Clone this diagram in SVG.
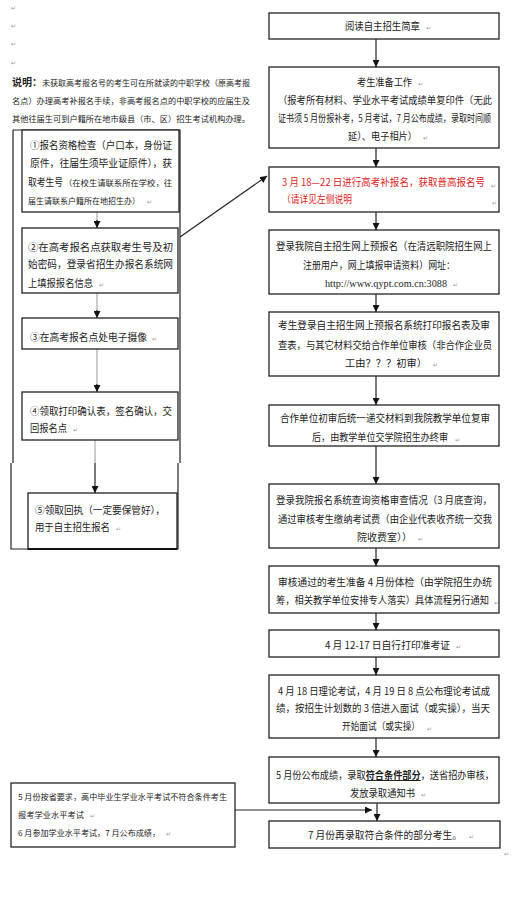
<svg xmlns="http://www.w3.org/2000/svg" width="520" height="900" viewBox="0 0 520 900">
<style>
.bg{fill:#fff}
.box{fill:#fff;stroke:#222;stroke-width:1.3}
.t{font-family:"Noto Sans CJK SC","Noto Sans",sans-serif;font-size:10px;fill:#222}
.s{font-family:"Noto Sans CJK SC","Noto Sans",sans-serif;font-size:8px;fill:#222}
.red{fill:#e02020}
.url{font-family:"Liberation Serif",serif;font-size:10.5px;fill:#222}
.pm{font-family:"DejaVu Sans",sans-serif;font-size:6px;fill:#999}
.c{stroke:#222;stroke-width:1.2;fill:none}
.g{stroke:#999;stroke-width:1;fill:none}
.u{text-decoration:underline;font-weight:bold}
</style>
<defs>
<marker id="ah" viewBox="0 0 8 8" refX="8" refY="4" markerWidth="7" markerHeight="7" orient="auto" markerUnits="userSpaceOnUse">
<path d="M0,0 L8,4 L0,8 z" fill="#111"/>
</marker>
</defs>
<rect class="bg" x="0" y="0" width="520" height="900"/>

<g id="marks">
<text class="pm" x="11" y="10">↵</text>
<text class="pm" x="11" y="28">↵</text>
<text class="pm" x="11" y="46">↵</text>
<text class="pm" x="11" y="65">↵</text>
<text class="pm" x="504" y="856">↵</text>
</g>

<g id="note">
<text class="s" x="12" y="86" textLength="238" lengthAdjust="spacingAndGlyphs"><tspan font-size="10" font-weight="bold">说明：</tspan>未获取高考报名号的考生可在所就读的中职学校（原高考报</text>
<text class="s" x="12" y="104" textLength="238" lengthAdjust="spacingAndGlyphs">名点）办理高考补报名手续，非高考报名点的中职学校的应届生及</text>
<text class="s" x="12" y="122" textLength="238" lengthAdjust="spacingAndGlyphs">其他往届生可到户籍所在地市级县（市、区）招生考试机构办理。</text>
</g>

<g id="outer">
<path class="c" d="M13,130 L180,130 L180,463 M13,130 L13,463 M11,463 L11,549 L178,549 L178,463"/>
</g>

<g id="connectors">
<line class="c" x1="376" y1="39" x2="376" y2="67" marker-end="url(#ah)"/>
<line class="c" x1="376" y1="148" x2="376" y2="167" marker-end="url(#ah)"/>
<line class="c" x1="376" y1="212" x2="376" y2="230" marker-end="url(#ah)"/>
<line class="c" x1="376" y1="294" x2="376" y2="312" marker-end="url(#ah)"/>
<line class="c" x1="376" y1="376" x2="376" y2="405" marker-end="url(#ah)"/>
<line class="c" x1="376" y1="446" x2="376" y2="484" marker-end="url(#ah)"/>
<line class="c" x1="376" y1="548" x2="376" y2="566" marker-end="url(#ah)"/>
<line class="c" x1="376" y1="613" x2="376" y2="630" marker-end="url(#ah)"/>
<line class="c" x1="376" y1="657" x2="376" y2="675" marker-end="url(#ah)"/>
<line class="c" x1="376" y1="738" x2="376" y2="757" marker-end="url(#ah)"/>
<line class="c" x1="377" y1="803" x2="377" y2="821" marker-end="url(#ah)"/>
<line class="c" x1="235" y1="810" x2="372" y2="810" marker-end="url(#ah)"/>
<line class="c" x1="180" y1="237" x2="267" y2="176" marker-end="url(#ah)"/>
<line class="g" x1="97" y1="212" x2="97" y2="222"/>
<line class="c" x1="97" y1="220" x2="97" y2="228" marker-end="url(#ah)"/>
<line class="g" x1="97" y1="293" x2="97" y2="312"/>
<line class="c" x1="97" y1="310" x2="97" y2="318" marker-end="url(#ah)"/>
<line class="g" x1="97" y1="349" x2="97" y2="386"/>
<line class="c" x1="97" y1="384" x2="97" y2="392" marker-end="url(#ah)"/>
<line class="g" x1="95" y1="440" x2="95" y2="463"/>
<line class="c" x1="95" y1="463" x2="95" y2="493" marker-end="url(#ah)"/>
</g>

<g id="n1"><rect class="box" x="269" y="13" width="230" height="26"/>
<text class="t" x="345" y="30" textLength="75" lengthAdjust="spacingAndGlyphs">阅读自主招生简章</text><text class="pm" x="426" y="30">↵</text></g>

<g id="n2"><rect class="box" x="269" y="67" width="230" height="81"/>
<text class="t" x="357" y="86" textLength="55" lengthAdjust="spacingAndGlyphs">考生准备工作</text><text class="pm" x="418" y="86">↵</text>
<text class="t" x="278" y="104" textLength="214" lengthAdjust="spacingAndGlyphs">（报考所有材料、学业水平考试成绩单复印件（无此</text>
<text class="t" x="278" y="122" font-size="9" textLength="213" lengthAdjust="spacingAndGlyphs">证书须 5 月份报补考，5 月考试，7 月公布成绩，录取时间顺</text>
<text class="t" x="348" y="140" textLength="69" lengthAdjust="spacingAndGlyphs">延）、电子相片）</text><text class="pm" x="423" y="140">↵</text></g>

<g id="n3"><rect class="box" x="269" y="167" width="230" height="45"/>
<text class="t red" x="282" y="186" textLength="203" lengthAdjust="spacingAndGlyphs">3 月 18—22 日进行高考补报名，获取普高报名号</text><text class="pm" x="491" y="188">↵</text>
<text class="t red" x="282" y="203" textLength="70" lengthAdjust="spacingAndGlyphs">（请详见左侧说明</text><text class="pm" x="492" y="205">↵</text></g>

<g id="n4"><rect class="box" x="269" y="230" width="230" height="64"/>
<text class="t" x="276" y="250" textLength="216" lengthAdjust="spacingAndGlyphs">登录我院自主招生网上预报名（在清远职院招生网上</text>
<text class="t" x="303" y="269" textLength="152" lengthAdjust="spacingAndGlyphs">注册用户，网上填报申请资料）网址：</text>
<text class="url" x="325" y="287" textLength="122" lengthAdjust="spacingAndGlyphs">http://www.qypt.com.cn:3088</text><text class="pm" x="453" y="287">↵</text></g>

<g id="n5"><rect class="box" x="269" y="312" width="230" height="64"/>
<text class="t" x="278" y="329" textLength="212" lengthAdjust="spacingAndGlyphs">考生登录自主招生网上预报名系统打印报名表及审</text>
<text class="t" x="278" y="349" textLength="214" lengthAdjust="spacingAndGlyphs">查表，与其它材料交给合作单位审核（非合作企业员</text>
<text class="t" x="345" y="367" textLength="82" lengthAdjust="spacingAndGlyphs">工由？？？初审）</text><text class="pm" x="433" y="367">↵</text></g>

<g id="n6"><rect class="box" x="269" y="405" width="230" height="41"/>
<text class="t" x="280" y="422" textLength="210" lengthAdjust="spacingAndGlyphs">合作单位初审后统一递交材料到我院教学单位复审</text>
<text class="t" x="312" y="441" textLength="136" lengthAdjust="spacingAndGlyphs">后，由教学单位交学院招生办终审</text><text class="pm" x="455" y="442">↵</text></g>

<g id="n7"><rect class="box" x="269" y="484" width="230" height="64"/>
<text class="t" x="276" y="504" textLength="216" lengthAdjust="spacingAndGlyphs">登录我院报名系统查询资格审查情况（3 月底查询，</text>
<text class="t" x="278" y="523" textLength="214" lengthAdjust="spacingAndGlyphs">通过审核考生缴纳考试费（由企业代表收齐统一交我</text>
<text class="t" x="357" y="541" textLength="55" lengthAdjust="spacingAndGlyphs">院收费室））</text><text class="pm" x="418" y="541">↵</text></g>

<g id="n8"><rect class="box" x="269" y="566" width="230" height="47"/>
<text class="t" x="278" y="586" textLength="214" lengthAdjust="spacingAndGlyphs">审核通过的考生准备 4 月份体检（由学院招生办统</text>
<text class="t" x="276" y="604" textLength="213" lengthAdjust="spacingAndGlyphs">筹，相关教学单位安排专人落实）具体流程另行通知</text><text class="pm" x="494" y="605">↵</text></g>

<g id="n9"><rect class="box" x="269" y="630" width="230" height="27"/>
<text class="t" x="325" y="649" textLength="125" lengthAdjust="spacingAndGlyphs">4 月 12-17 日自行打印准考证</text><text class="pm" x="456" y="649">↵</text></g>

<g id="n10"><rect class="box" x="269" y="675" width="230" height="63"/>
<text class="t" x="278" y="695" textLength="212" lengthAdjust="spacingAndGlyphs">4 月 18 日理论考试，4 月 19 日 8 点公布理论考试成</text>
<text class="t" x="276" y="712" textLength="214" lengthAdjust="spacingAndGlyphs">绩，按招生计划数的 3 倍进入面试（或实操），当天</text>
<text class="t" x="342" y="730" textLength="78" lengthAdjust="spacingAndGlyphs">开始面试（或实操）</text><text class="pm" x="427" y="731">↵</text></g>

<g id="n11"><rect class="box" x="269" y="757" width="230" height="46"/>
<text class="t" x="276" y="779" textLength="218" lengthAdjust="spacingAndGlyphs">5 月份公布成绩，录取<tspan class="u">符合条件部分</tspan>，送省招办审核，</text>
<text class="t" x="350" y="797" textLength="65" lengthAdjust="spacingAndGlyphs">发放录取通知书</text><text class="pm" x="421" y="797">↵</text></g>

<g id="n12"><rect class="box" x="269" y="821" width="231" height="27"/>
<text class="t" x="308" y="839" font-size="11" textLength="154" lengthAdjust="spacingAndGlyphs">7 月份再录取符合条件的部分考生。</text><text class="pm" x="469" y="839">↵</text></g>

<g id="s1"><rect class="box" x="22" y="130" width="157" height="82"/>
<text class="t" x="30" y="149" textLength="142" lengthAdjust="spacingAndGlyphs">①报名资格检查（户口本，身份证</text>
<text class="t" x="30" y="167" textLength="142" lengthAdjust="spacingAndGlyphs">原件，往届生须毕业证原件），获</text>
<text class="t" x="28" y="186" textLength="35" lengthAdjust="spacingAndGlyphs">取考生号</text>
<text class="s" x="64" y="186" textLength="108" lengthAdjust="spacingAndGlyphs">（在校生请联系所在学校，往</text>
<text class="s" x="28" y="204" textLength="112" lengthAdjust="spacingAndGlyphs">届生请联系户籍所在地招生办）</text><text class="pm" x="147" y="204">↵</text></g>

<g id="s2"><rect class="box" x="22" y="228" width="156" height="65"/>
<text class="t" x="28" y="251" textLength="145" lengthAdjust="spacingAndGlyphs">②在高考报名点获取考生号及初</text>
<text class="t" x="28" y="268" textLength="145" lengthAdjust="spacingAndGlyphs">始密码，登录省招生办报名系统网</text>
<text class="t" x="28" y="287" textLength="65" lengthAdjust="spacingAndGlyphs">上填报报名信息</text><text class="pm" x="99" y="287">↵</text></g>

<g id="s3"><rect class="box" x="22" y="318" width="156" height="31"/>
<text class="t" x="30" y="341" textLength="117" lengthAdjust="spacingAndGlyphs">③在高考报名点处电子摄像</text><text class="pm" x="152" y="341">↵</text></g>

<g id="s4"><rect class="box" x="22" y="392" width="156" height="48"/>
<text class="t" x="30" y="415" textLength="142" lengthAdjust="spacingAndGlyphs">④领取打印确认表，签名确认，交</text>
<text class="t" x="30" y="432" textLength="37" lengthAdjust="spacingAndGlyphs">回报名点</text><text class="pm" x="73" y="432">↵</text></g>

<g id="s5"><rect class="box" x="28" y="493" width="149" height="56"/>
<line x1="28" y1="549" x2="177" y2="549" stroke="#111" stroke-width="2.2"/>
<text class="t" x="35" y="514" textLength="130" lengthAdjust="spacingAndGlyphs">⑤领取回执（一定要保管好），</text>
<text class="t" x="35" y="531" textLength="75" lengthAdjust="spacingAndGlyphs">用于自主招生报名</text><text class="pm" x="116" y="531">↵</text></g>

<g id="s6"><rect class="box" x="11" y="783" width="224" height="64"/>
<text class="s" x="18" y="800" textLength="209" lengthAdjust="spacingAndGlyphs">5 月份按省要求，高中毕业生学业水平考试不符合条件考生</text>
<text class="s" x="18" y="818" textLength="66" lengthAdjust="spacingAndGlyphs">报考学业水平考试</text><text class="pm" x="90" y="818">↵</text>
<text class="s" x="18" y="836" textLength="142" lengthAdjust="spacingAndGlyphs">6 月参加学业水平考试，7 月公布成绩，</text><text class="pm" x="166" y="836">↵</text></g>
</svg>
